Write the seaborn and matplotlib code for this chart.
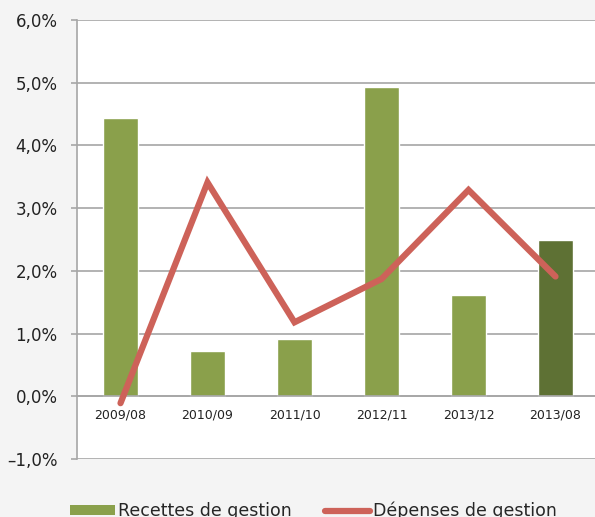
import numpy as np
import matplotlib
matplotlib.use("Agg")
import matplotlib.pyplot as plt
import seaborn as sns
from matplotlib.patches import Patch
from matplotlib.lines import Line2D
from matplotlib.ticker import FuncFormatter

periodes = ["2009/08", "2010/09", "2011/10", "2012/11", "2013/12", "2013/08"]
recettes = [4.43, 0.72, 0.91, 4.93, 1.61, 2.50]
depenses = [-0.11, 3.41, 1.18, 1.87, 3.29, 1.91]
bar_colors = ["#8aa04b", "#8aa04b", "#8aa04b", "#8aa04b", "#8aa04b", "#5e7134"]
line_color = "#cd6259"

sns.set_style("white")
plt.rcParams["font.family"] = ["DejaVu Sans"]

fig = plt.figure(figsize=(5.95, 5.17), dpi=100, facecolor="#f4f4f4")
ax = fig.add_axes([77 / 595, 1 - 459 / 517, 1 - 77 / 595, (459 - 20) / 517])
ax.set_facecolor("white")

sns.barplot(x=periodes, y=recettes, hue=periodes, palette=bar_colors, saturation=1,
            width=0.4, legend=False, ax=ax, zorder=2)
sns.lineplot(x=np.arange(len(periodes)), y=depenses, sort=False, color=line_color,
             linewidth=4.5, solid_capstyle="round", solid_joinstyle="miter", ax=ax, zorder=3)

ax.set_ylim(-1, 6)
ax.set_xlim(-0.5, 5.454)
ax.set_yticks(np.arange(-1, 7, 1))
ax.yaxis.set_major_formatter(FuncFormatter(lambda v, p: f"{v:.1f}%".replace(".", ",").replace("-", "\u2013")))
ax.grid(axis="y", color="#a6a6a6", linewidth=1.2)
ax.set_axisbelow(True)

for s in ["top", "right"]:
    ax.spines[s].set_visible(False)
ax.spines["left"].set_color("#a6a6a6")
ax.spines["left"].set_linewidth(1.2)
ax.spines["bottom"].set_position(("data", 0))
ax.spines["bottom"].set_color("#a6a6a6")
ax.spines["bottom"].set_linewidth(1.2)

ax.set_xticks(range(len(periodes)))
ax.set_xticklabels(periodes)
ax.set_xticks(np.arange(0.5, len(periodes) - 0.5, 1), minor=True)
ax.tick_params(axis="x", which="major", length=0, pad=9, labelsize=9, labelcolor="#222222")
ax.tick_params(axis="x", which="minor", length=3, width=1.2, color="#a6a6a6", direction="out")
ax.tick_params(axis="y", length=4, width=1.2, color="#a6a6a6", pad=10, labelsize=12, labelcolor="#222222", left=True)
ax.set_xlabel("")
ax.set_ylabel("")

handles = [Patch(facecolor="#8aa04b", edgecolor="none"),
           Line2D([0], [0], color=line_color, linewidth=4.5, solid_capstyle="round")]
fig.legend(handles, ["Recettes de gestion", "Dépenses de gestion"], ncol=2,
           loc="center left", bbox_to_anchor=(70 / 595, 1 - 511 / 517),
           frameon=False, fontsize=12.5, handlelength=2.6, handleheight=0.55,
           handletextpad=0.15, columnspacing=1.95, borderpad=0, borderaxespad=0)

fig.savefig("out.png", dpi=100, facecolor=fig.get_facecolor())
